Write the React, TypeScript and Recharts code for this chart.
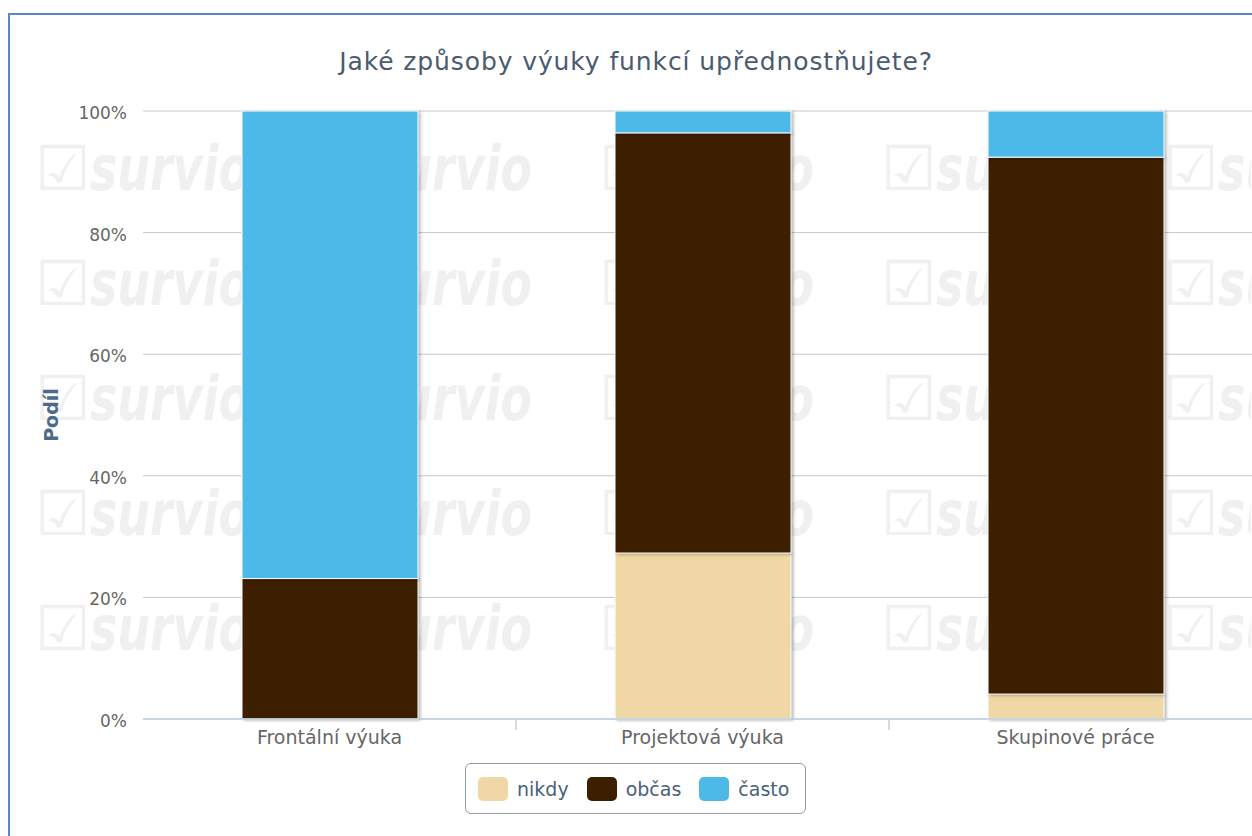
import React from 'react';
import { BarChart, Bar, XAxis, YAxis, CartesianGrid, Legend } from 'recharts';

const categories = ['Frontální výuka', 'Projektová výuka', 'Skupinové práce'];
const nikdy = [0, 27.3, 4.1];
const obcas = [23.1, 69.1, 88.3];
const casto = [76.9, 3.6, 7.6];
const yTicks = [0, 20, 40, 60, 80, 100];
const boundaryTicks = [1, 2];
const seriesKeys = ['nikdy', 'obcas', 'casto'];
const seriesNames = ['nikdy', 'občas', 'často'];
const seriesColors = ['#f0d8a6', '#3d1f00', '#4db9e8'];
const title = 'Jaké způsoby výuky funkcí upřednostňujete?';
const yTitle = 'Podíl';
const watermarkText = 'survio';

const data = categories.map((c, i) => ({
  category: c,
  slot: i + 1,
  nikdy: nikdy[i],
  obcas: obcas[i],
  casto: casto[i],
}));

const FONT = '"DejaVu Sans", Verdana, sans-serif';

const ShadowRect = (props: any) => {
  const { x, y, width, height, fill } = props;
  if (!height || height <= 0) return null;
  return (
    <rect
      x={x}
      y={y}
      width={width}
      height={height}
      fill={fill}
      stroke="#ffffff"
      strokeWidth={1}
      style={{ filter: 'drop-shadow(2px 1px 1.5px rgba(0,0,0,0.28))' }}
    />
  );
};

const LegendBox = (props: any) => {
  const payload = props.payload || [];
  return (
    <div
      style={{
        boxSizing: 'border-box',
        width: 341,
        height: 51,
        border: '1px solid #9a9a9a',
        borderRadius: 6,
        display: 'flex',
        alignItems: 'center',
        paddingLeft: 12,
        fontFamily: FONT,
        fontSize: 19,
        color: '#4a5f7a',
        background: '#fff',
      }}
    >
      {payload.map((p: any, i: number) => (
        <div key={i} style={{ display: 'flex', alignItems: 'center', marginRight: i < payload.length - 1 ? 18 : 0 }}>
          <span
            style={{
              display: 'inline-block',
              width: 30,
              height: 24,
              borderRadius: 5,
              background: p.color,
              marginRight: 9,
            }}
          />
          <span>{p.value}</span>
        </div>
      ))}
    </div>
  );
};

const Watermark = () => {
  const rows = [0, 1, 2, 3, 4, 5];
  const cols = [0, 1, 2, 3, 4];
  return (
    <svg style={{ position: 'absolute', left: 0, top: 0 }} width={1252} height={836}>
      <defs>
        <clipPath id="wmclip">
          <rect x={30} y={111} width={1221} height={608} />
        </clipPath>
      </defs>
      <g clipPath="url(#wmclip)" fill="#f0f0f0">
        {rows.map((r) =>
          cols.map((c) => (
            <g key={`${r}-${c}`} transform={`translate(${35 + c * 282}, ${190 + r * 115})`}>
              <text x={0} y={0} fontSize={62} fontFamily={FONT}>
                ☑
              </text>
              <text
                x={55}
                y={0}
                fontSize={62}
                fontWeight="bold"
                fontStyle="italic"
                fontFamily={FONT}
                textLength={160}
                lengthAdjust="spacingAndGlyphs"
              >
                {watermarkText}
              </text>
            </g>
          ))
        )}
      </g>
    </svg>
  );
};

export default function App() {
  return (
    <div
      style={{
        position: 'fixed',
        left: 0,
        top: 0,
        width: 1252,
        height: 836,
        overflow: 'hidden',
        background: '#ffffff',
        fontFamily: FONT,
      }}
    >
      <Watermark />
      <div
        style={{
          position: 'absolute',
          left: 8,
          top: 13,
          width: 1400,
          height: 1000,
          borderLeft: '2px solid #5a88c6',
          borderTop: '2px solid #5a88c6',
        }}
      />
      <div style={{ position: 'absolute', left: 0, top: 0 }}>
        <BarChart
          width={1300}
          height={836}
          data={data}
          margin={{ top: 111, right: 38, bottom: 87, left: 0 }}
          barSize={176}
        >
          <CartesianGrid vertical={false} stroke="#c8c8c8" strokeWidth={1} />
          <XAxis
            xAxisId="bounds"
            dataKey="slot"
            type="number"
            scale="linear"
            domain={['dataMin - 1', 'dataMax']}
            ticks={boundaryTicks}
            allowDataOverflow
            height={1}
            axisLine={{ stroke: '#c0d0e3', strokeWidth: 1.5 }}
            tickFormatter={() => ''}
            tickLine={{ stroke: '#c0d0e3', strokeWidth: 1.5 }}
            tickSize={11}
          />
          <XAxis
            xAxisId="cat"
            dataKey="category"
            type="category"
            height={29}
            axisLine={false}
            tickLine={false}
            tickMargin={5}
            tick={{ fill: '#666666', fontSize: 19, fontFamily: FONT }}
          />
          <YAxis
            domain={[0, 100]}
            ticks={yTicks}
            width={143}
            axisLine={false}
            tickLine={false}
            tickSize={6}
            tickMargin={10}
            tickFormatter={(v: number) => `${v}%`}
            tick={{ fill: '#666666', fontSize: 17, fontFamily: FONT, dy: 2 }}
            label={{
              value: yTitle,
              angle: -90,
              position: 'insideLeft',
              dx: 46,
              style: { fill: '#4d6a8d', fontSize: 19, fontWeight: 'bold', fontFamily: FONT, textAnchor: 'middle' },
            }}
          />
          <Legend
            layout="horizontal"
            verticalAlign="middle"
            align="center"
            content={<LegendBox />}
            wrapperStyle={{ left: 465, top: 763, width: 341, height: 51 }}
          />
          {seriesKeys.map((k, i) => (
            <Bar
              key={k}
              xAxisId="cat"
              dataKey={k}
              name={seriesNames[i]}
              stackId="s"
              fill={seriesColors[i]}
              shape={<ShadowRect />}
              isAnimationActive={false}
            />
          ))}
        </BarChart>
      </div>
      <svg style={{ position: 'absolute', left: 0, top: 0, pointerEvents: 'none' }} width={1252} height={100}>
        <text x={636} y={70} textAnchor="middle" fill="#4a5b70" fontSize={25} letterSpacing={0.9} fontFamily={FONT}>
          {title}
        </text>
      </svg>
    </div>
  );
}
